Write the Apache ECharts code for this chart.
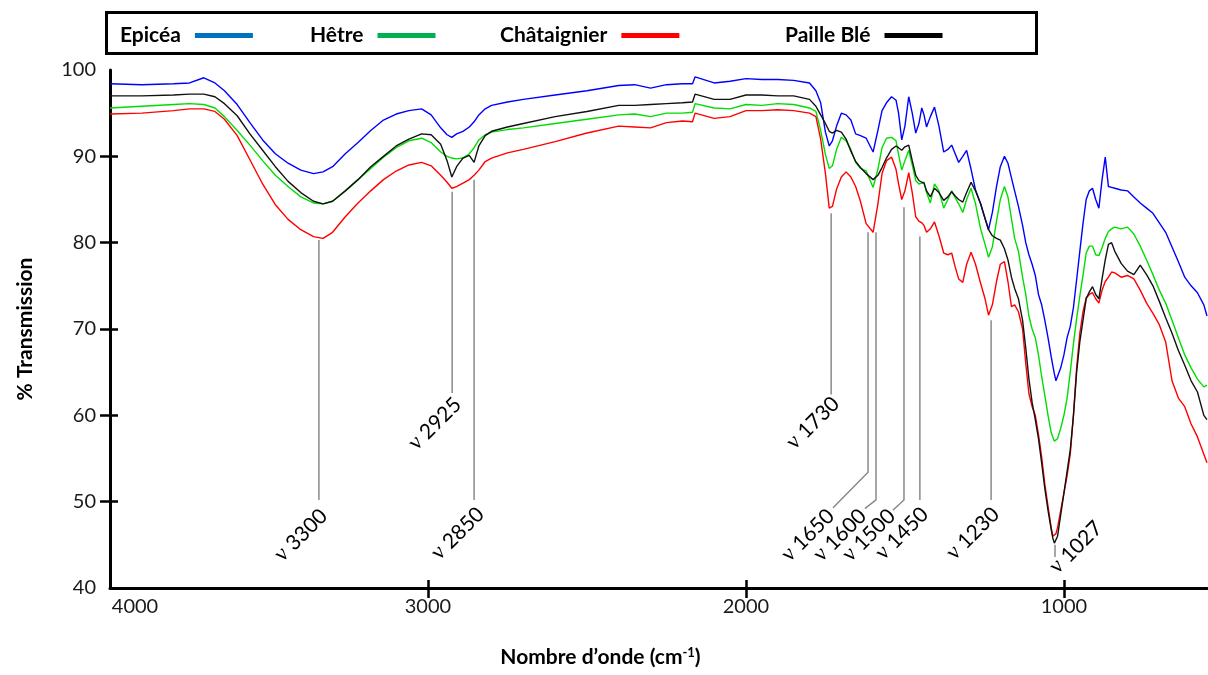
<!DOCTYPE html>
<html><head><meta charset="utf-8">
<script src="https://cdn.jsdelivr.net/npm/echarts@6/dist/echarts.min.js"></script>
<style>html,body{margin:0;padding:0;background:#fff}#c{width:1208px;height:675px}</style>
</head><body><div id="c"></div>
<script>
// ---- DATA ----
const wavenumbers = [
  4000, 3900, 3800, 3750, 3705, 3670, 3640, 3600, 3560, 3520, 3480, 3440, 3400, 3360, 3330, 3300,
  3260, 3220, 3180, 3140, 3100, 3060, 3020, 2990, 2960, 2940, 2925, 2910, 2890, 2870, 2855, 2840, 2820, 2800,
  2750, 2700, 2600, 2500, 2400, 2350, 2300, 2250, 2200, 2168, 2160, 2100, 2050, 2000, 1950, 1900, 1850, 1800,
  1780, 1765, 1750, 1738, 1728, 1715, 1700, 1685, 1670, 1655, 1640, 1622, 1600,
  1585, 1572, 1558, 1542, 1528, 1520, 1510, 1500, 1488, 1477, 1466, 1456, 1447, 1440, 1432, 1420,
  1407, 1393, 1378, 1365, 1353, 1342, 1331, 1318, 1306, 1292, 1278, 1262, 1248, 1237,
  1225, 1212, 1200, 1187, 1176, 1165, 1155, 1143, 1130, 1120, 1110, 1100, 1090, 1080, 1070, 1060,
  1050, 1040, 1035, 1030, 1025, 1020, 1010, 1000, 990, 980, 970, 960, 950, 940, 930, 920, 910, 900,
  890, 880, 870, 860, 850, 840, 820, 800, 780, 760, 740, 720, 700, 680, 660, 640, 620, 600, 580, 560, 550
];
const epicea = [
  98.4, 98.3, 98.4, 98.5, 99.1, 98.5, 97.6, 96.0, 93.9, 91.9, 90.3, 89.2, 88.4, 88.0, 88.2, 88.8,
  90.3, 91.6, 93.0, 94.2, 94.9, 95.3, 95.5, 94.8, 93.3, 92.5, 92.2, 92.6, 92.9, 93.4, 94.0, 94.8, 95.5, 95.9,
  96.3, 96.6, 97.1, 97.6, 98.2, 98.3, 97.9, 98.3, 98.4, 98.4, 99.2, 98.5, 98.7, 99.0, 98.9, 98.9, 98.8, 98.5,
  97.6, 96.2, 92.8, 91.2, 91.8, 93.5, 95.0, 94.8, 94.2, 92.6, 92.4, 92.1, 90.5,
  93.0, 95.3, 96.2, 96.9, 96.5, 95.0, 91.9, 93.5, 96.9, 95.0, 92.7, 93.8, 95.6, 94.8, 93.4, 94.6,
  95.7, 93.5, 90.5, 90.8, 91.3, 90.3, 89.3, 90.0, 90.7, 88.5, 86.1, 84.5, 82.8, 81.5,
  83.5, 86.5, 88.8, 90.0, 89.2, 87.5, 86.0, 84.2, 82.0, 80.0, 78.6, 77.5, 76.2, 74.0, 72.8, 71.0,
  69.0, 66.8, 65.8, 64.8, 64.0, 64.2, 65.5, 67.0, 69.0, 70.3, 72.5, 75.7, 79.0, 82.2, 85.0, 86.0, 86.3, 85.0,
  84.0, 87.3, 89.9, 86.5, 86.4, 86.3, 86.1, 86.0, 85.3, 84.6, 84.0, 83.4, 82.3, 81.2, 79.5, 77.8, 76.0, 75.0, 74.2, 72.8, 71.5
];
const hetre = [
  95.6, 95.8, 96.0, 96.1, 96.0, 95.6, 94.6, 93.0, 91.3, 89.5, 87.8, 86.5, 85.3, 84.6, 84.5, 84.8,
  86.0, 87.3, 88.6, 89.9, 91.0, 91.8, 92.1, 91.6, 90.5, 90.0, 89.8, 89.7, 89.8, 90.3, 91.0, 91.9, 92.5, 92.8,
  93.1, 93.3, 93.8, 94.3, 94.8, 94.9, 94.6, 95.0, 95.0, 95.1, 96.1, 95.6, 95.5, 96.0, 95.9, 96.1, 96.0, 95.6,
  95.2, 93.0, 90.2, 88.6, 88.9, 90.8, 92.2, 91.8, 90.8, 89.3, 88.6, 88.3, 86.4,
  88.5, 91.0, 92.1, 92.2, 91.8, 90.2, 88.4, 89.5, 90.7, 89.0, 87.2, 86.8, 86.9, 87.0, 85.8, 84.6,
  86.8, 86.0, 84.0, 85.0, 86.0, 85.2, 84.5, 83.5, 85.0, 86.3, 84.5, 81.6, 79.8, 78.3,
  79.5, 82.5, 85.0, 86.5, 85.3, 82.8, 80.5, 79.0, 76.0, 74.0, 71.5, 70.0, 69.0, 67.0, 64.5, 62.3,
  60.0, 58.0, 57.5, 57.0, 56.9, 57.3, 58.5, 60.0, 62.0, 65.0, 68.3, 71.2, 73.8, 76.2, 78.8, 79.6, 79.6, 78.6,
  78.5, 79.4, 80.5, 81.3, 81.6, 81.8, 81.6, 81.8, 81.0, 79.6, 78.0, 76.3, 74.5, 73.0, 71.0, 69.0, 67.0, 65.5, 64.2, 63.3, 63.5
];
const chataignier = [
  94.9, 95.0, 95.3, 95.5, 95.5, 95.2, 94.3, 92.4, 89.6, 86.8, 84.4, 82.7, 81.5, 80.7, 80.5, 81.2,
  83.0, 84.6, 86.0, 87.3, 88.3, 89.0, 89.3, 88.9, 87.8, 87.0, 86.3, 86.5, 86.9, 87.3, 87.8, 88.4, 89.4, 89.8,
  90.4, 90.8, 91.7, 92.7, 93.5, 93.4, 93.3, 93.9, 94.1, 94.0, 95.0, 94.4, 94.6, 95.3, 95.3, 95.4, 95.3, 95.0,
  94.6, 92.0, 88.0, 84.0, 84.2, 86.2, 87.6, 88.2, 87.6, 86.5, 84.8, 82.2, 81.2,
  84.5, 88.0, 89.5, 89.9, 88.5, 86.8, 85.0, 86.0, 88.1, 85.8, 83.0, 82.5, 82.3, 82.0, 81.2, 81.6,
  82.4, 80.8, 78.8, 78.6, 78.8, 77.2, 75.8, 75.4, 77.5, 78.9, 77.5, 75.3, 73.5, 71.6,
  72.8, 75.5, 77.5, 77.8, 75.5, 72.6, 72.8, 72.0, 70.0, 66.0, 62.5, 61.0, 60.0, 57.8, 55.2, 52.0,
  49.5, 47.0, 46.0, 45.9, 46.3, 47.0, 49.0, 51.0, 53.0, 55.5, 60.0, 65.5, 69.5, 72.0, 73.6, 74.0, 74.2, 73.5,
  73.0, 74.5, 75.5, 76.0, 76.6, 76.5, 76.0, 76.2, 75.8, 74.5, 73.0, 71.8, 70.5, 68.5, 64.0, 62.0, 61.0, 59.0, 57.5, 55.5, 54.5
];
const pailleBle = [
  97.0, 97.0, 97.1, 97.2, 97.2, 96.9, 96.1, 94.7, 92.6, 90.7, 88.8, 87.1, 85.8, 84.8, 84.5, 84.8,
  86.0, 87.3, 88.8, 90.0, 91.2, 92.0, 92.6, 92.5, 91.4, 89.5, 87.6, 88.8, 89.8, 90.1, 89.3, 91.2, 92.4, 92.9,
  93.4, 93.8, 94.6, 95.2, 95.9, 95.9, 96.0, 96.1, 96.2, 96.3, 97.2, 96.6, 96.6, 97.1, 97.1, 97.0, 97.0, 96.6,
  95.8, 94.8, 93.8, 92.9, 92.7, 93.0, 92.8, 92.0, 90.6, 89.4, 88.7, 88.0, 87.3,
  87.8, 88.7, 89.8, 90.8, 91.2, 91.0, 90.7, 91.1, 91.3, 89.5, 87.8, 87.2, 87.0, 86.9, 86.0, 85.3,
  86.3, 85.8, 84.9, 85.3, 85.9, 85.4, 85.0, 84.7, 85.8, 87.0, 86.0, 84.5, 82.8, 81.5,
  80.8, 80.5, 80.3, 79.3, 78.0, 76.0, 74.7, 73.5, 71.0, 67.8, 64.2, 61.5, 59.5, 57.3, 54.5, 51.5,
  49.0, 46.8, 45.8, 45.2, 45.0, 46.0, 48.5, 51.0, 53.5, 56.0, 60.0, 65.0, 68.5, 71.0, 73.5, 74.3, 74.9, 74.0,
  73.5, 75.8, 78.0, 79.8, 80.0, 79.0, 77.6, 76.7, 76.3, 77.4, 76.3, 75.0, 73.2, 71.3, 69.5, 67.5, 65.8, 64.0, 62.7, 60.0, 59.5
];
const seriesNames = ['Epicéa', 'Hêtre', 'Châtaignier', 'Paille Blé'];
const xTickLabels = [4000, 3000, 2000, 1000];
const yTickLabels = [40, 50, 60, 70, 80, 90, 100];

// band annotations (wavenumber labels, leader lines in data units)
const annotLabels = ['3300', '2925', '2850', '1730', '1650', '1600', '1500', '1450', '1230', '1027'];
const annotLineX = [3343, 2924, 2855, 1732, 1616, 1591, 1503, 1453, 1229, 1028];
const annotLineTop = [80.3, 85.9, 87.3, 83.4, 81.2, 81.2, 84.1, 80.7, 71.0, 45.0];
const annotLineBottom = [50.2, 62.6, 50.2, 62.4, 53.4, 50.2, 50.2, 50.2, 50.2, 43.6];
const annotLeaderX = [null, null, null, null, 1726, 1626, 1538, null, null, null];
const annotLeaderY = [null, null, null, null, 49.3, 49.2, 49.0, null, null, null];
const annotLabelX = [3399, 2978, 2906, 1789, 1805, 1704, 1613, 1509, 1286, 962];
const annotLabelY = [46.1, 59.0, 46.3, 59.1, 46.1, 46.1, 46.1, 46.3, 46.3, 44.7];

// ---- STYLE ----
const seriesValues = [epicea, hetre, chataignier, pailleBle];
const lineColors = ['#0000FF', '#00DD00', '#FF0000', '#111111'];
const legendColors = ['#0070C0', '#00B050', '#FF0000', '#000000'];
const legendLeft = [115, 305, 495, 780];
const FONT = 'Lato';

const chart = echarts.init(document.getElementById('c'));
const xMin = 550, xMax = 4000;

const specSeries = seriesNames.map((n, i) => ({
  name: n, type: 'line', showSymbol: false, symbol: 'none', silent: true,
  data: wavenumbers.map((w, k) => [w, seriesValues[i][k]]),
  lineStyle: { color: lineColors[i], width: 1.4 },
  itemStyle: { color: lineColors[i] },
  z: 3 + i
}));

const annotLines = {
  type: 'lines', coordinateSystem: 'cartesian2d', polyline: true, silent: true,
  lineStyle: { color: '#8a8a8a', width: 1.5, opacity: 1 },
  data: annotLabels.map((l, i) => {
    const c = [[annotLineX[i], annotLineTop[i]], [annotLineX[i], annotLineBottom[i]]];
    if (annotLeaderX[i] != null) c.push([annotLeaderX[i], annotLeaderY[i]]);
    return { coords: c };
  }),
  z: 2
};

const annotText = {
  type: 'scatter', silent: true, symbol: 'circle', symbolSize: 0,
  itemStyle: { color: '#000', opacity: 1 },
  data: annotLabels.map((l, i) => [annotLabelX[i], annotLabelY[i]]),
  label: {
    show: true, position: 'inside', rotate: 45, align: 'center', verticalAlign: 'middle',
    formatter: p => '{nu|ν} {n|' + annotLabels[p.dataIndex] + '}',
    fontFamily: FONT, fontSize: 21, color: '#000', opacity: 1,
    rich: {
      nu: { fontFamily: 'Liberation Serif', fontSize: 23, color: '#000' },
      n: { fontFamily: FONT, fontSize: 21, color: '#000' }
    }
  },
  z: 10
};

chart.setOption({
  animation: false,
  backgroundColor: '#fff',
  graphic: [{
    type: 'rect', left: 105, top: 11, z: 0,
    shape: { width: 930, height: 41 },
    style: { fill: '#fff', stroke: '#000', lineWidth: 3 }
  }],
  legend: seriesNames.map((n, i) => ({
    left: legendLeft[i], top: 20, align: 'right', icon: 'rect',
    itemWidth: 58, itemHeight: 5, selectedMode: false, z: 5,
    data: [{ name: n, icon: 'rect', itemStyle: { color: legendColors[i] } }],
    textStyle: { fontFamily: FONT, fontWeight: 'bold', fontSize: 21, color: '#000', padding: [0, 9, 0, 0] }
  })),
  grid: { left: 110, right: 1, top: 70, bottom: 87, containLabel: false },
  xAxis: [{
    type: 'value', min: xMin, max: xMax, inverse: true,
    axisLine: { show: true, onZero: false, lineStyle: { color: '#000', width: 3 } },
    axisTick: { show: true, length: 10, customValues: xTickLabels.filter(v => v !== xMax), lineStyle: { color: '#000', width: 2.5 } },
    axisLabel: {
      customValues: xTickLabels, fontFamily: FONT, fontSize: 20, color: '#1a1a1a', margin: 9,
      formatter: v => (v === xMax ? '{edge|' + v + '}' : String(v)),
      rich: { edge: { fontFamily: FONT, fontSize: 20, color: '#1a1a1a', padding: [0, 0, 0, 50] } }
    },
    splitLine: { show: false },
    name: '{b|Nombre d\u2019onde (cm}{s|-1}{b|)}',
    nameLocation: 'middle', nameGap: 58,
    nameTextStyle: {
      padding: [0, 116, 0, 0],
      rich: {
        b: { fontFamily: FONT, fontWeight: 'bold', fontSize: 21, color: '#000' },
        s: { fontFamily: FONT, fontWeight: 'bold', fontSize: 13, color: '#000', verticalAlign: 'top', padding: [0, 0, 10, 0] }
      }
    }
  }, {
    type: 'value', min: xMin, max: xMax, inverse: true, position: 'bottom', offset: 0,
    axisLine: { show: false },
    axisTick: { show: true, inside: true, length: 8, customValues: xTickLabels.filter(v => v !== xMax), lineStyle: { color: '#000', width: 2.5 } },
    axisLabel: { show: false }, splitLine: { show: false }
  }],
  yAxis: [{
    type: 'value', min: 40, max: 100, interval: 10,
    axisLine: { show: true, onZero: false, lineStyle: { color: '#000', width: 3 } },
    axisTick: { show: true, length: 10, customValues: yTickLabels.filter(v => v !== 40 && v !== 100), lineStyle: { color: '#000', width: 2.5 } },
    axisLabel: { fontFamily: FONT, fontSize: 20, color: '#1a1a1a', margin: 14 },
    splitLine: { show: false },
    name: '% Transmission', nameLocation: 'middle', nameGap: 74,
    nameTextStyle: { fontFamily: FONT, fontWeight: 'bold', fontSize: 21, color: '#000' }
  }, {
    type: 'value', min: 40, max: 100, interval: 10, position: 'left', offset: 0,
    axisLine: { show: false },
    axisTick: { show: true, inside: true, length: 8, customValues: yTickLabels.filter(v => v !== 40 && v !== 100), lineStyle: { color: '#000', width: 2.5 } },
    axisLabel: { show: false }, splitLine: { show: false }
  }],
  series: [annotLines].concat(specSeries).concat([annotText])
});
</script>
</body></html>
